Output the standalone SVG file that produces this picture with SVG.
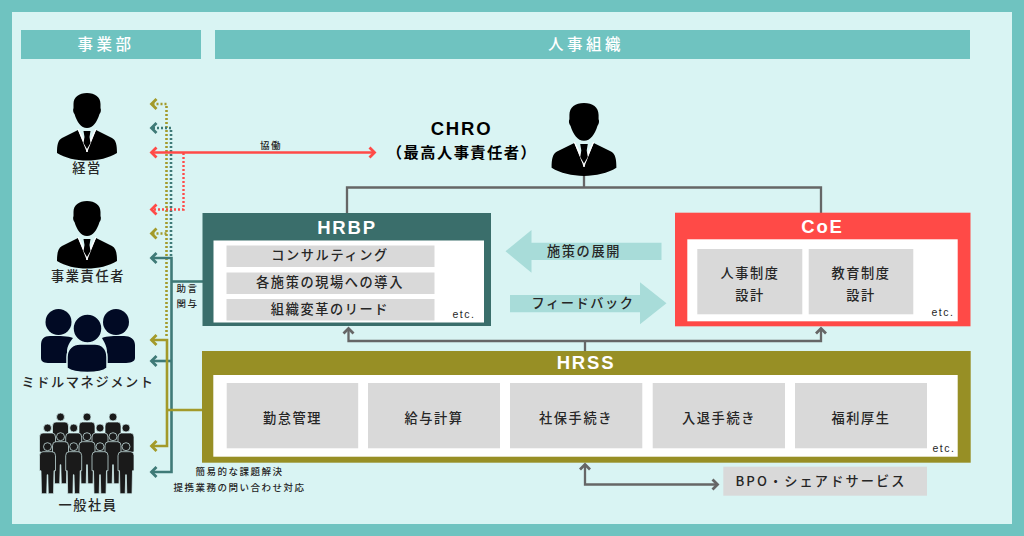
<svg xmlns="http://www.w3.org/2000/svg" width="1024" height="536" viewBox="0 0 1024 536">
<style>
text{font-family:"Noto Sans CJK JP","Noto Sans",sans-serif;text-anchor:middle;fill:#262626;font-weight:500}
.lab{font-size:13.200px;letter-spacing:1.6px}
.sm{font-size:9.500px;letter-spacing:1.5px}
.etc{font-family:"Liberation Sans",sans-serif;font-size:10.500px;letter-spacing:1.5px}
.ttl{font-family:"Liberation Sans","Noto Sans CJK JP",sans-serif;font-weight:700;font-size:18.500px;letter-spacing:1.8px;fill:#fff}
.hd{font-size:15.500px;letter-spacing:3.500px;fill:#fff;font-weight:500}
.gb{fill:#d9d9d9}.wb{fill:#fff}
path.c{fill:none}
.t{stroke:#3f7a77;stroke-width:2.600}.o{stroke:#a39a2a;stroke-width:2.600}.r{stroke:#ff4a47;stroke-width:2.400}.g{stroke:#666;stroke-width:2.300}
.d{stroke-dasharray:2 2}
.mk{fill:none;stroke-width:2.800}
</style>
<defs>
<marker id="mt" markerUnits="userSpaceOnUse" markerWidth="12" markerHeight="14" refX="8.500" refY="7" orient="auto-start-reverse"><path class="mk" stroke="#3f7a77" d="M3 2L8 7L3 12"/></marker>
<marker id="mo" markerUnits="userSpaceOnUse" markerWidth="12" markerHeight="14" refX="8.500" refY="7" orient="auto-start-reverse"><path class="mk" stroke="#a39a2a" d="M3 2L8 7L3 12"/></marker>
<marker id="mr" markerUnits="userSpaceOnUse" markerWidth="12" markerHeight="14" refX="8.500" refY="7" orient="auto-start-reverse"><path class="mk" stroke="#ff4a47" d="M3 2L8 7L3 12"/></marker>
<marker id="mg" markerUnits="userSpaceOnUse" markerWidth="12" markerHeight="14" refX="8.500" refY="7" orient="auto-start-reverse"><path class="mk" stroke="#666" d="M3 2L8 7L3 12"/></marker>
<g id="exec">
<path fill="#000" d="M0 0C-8 0-13.500 4-13.500 11L-13.500 15C-14.500 17-13.500 20-12.500 21C-10 29-6 35 0 35C6 35 10 29 12.500 21C13.500 20 14.500 17 13.500 15L13.500 11C13.500 4 8 0 0 0Z"/>
<path fill="#000" d="M-9 37L-25 45C-29 47-30 52-30 60C-14 70 14 70 30 60C30 52 29 47 25 45L9 37L0 58Z"/>
<path fill="#fff" d="M-9 36L-0.500 52L0 59L-1 56Z M9 36L0.500 52L0 59L1 56Z" stroke="#fff" stroke-width=".8"/>
<path fill="#000" d="M-3.500 38H3.500L2.500 44L3.500 50L0 56L-3.500 50L-2.500 44Z"/>
</g>
<g id="mini" stroke="#d9f4f3" stroke-width=".7">
<circle cx="0" cy="0" r="4"/>
<path d="M-4.500 5H4.500Q8 5 8 9V24H6.500L6 47H.8L.3 28H-.3L-.8 47H-6L-6.500 24H-8V9Q-8 5-4.500 5Z"/>
</g>
</defs>
<rect width="1024" height="536" fill="#6fc3c0"/>
<rect x="12" y="12" width="1000" height="512" fill="#d9f4f3"/>
<g id="header-biz"><rect x="21" y="30" width="180" height="29" fill="#6fc3c0"/><text class="hd" x="106" y="50">事業部</text></g>
<g id="header-hr"><rect x="215" y="30" width="755" height="29" fill="#6fc3c0"/><text class="hd" x="586" y="50">人事組織</text></g>

<g id="connectors">
<path class="c o d" d="M166.500 336V104H151" marker-end="url(#mo)"/>
<path class="c o d" d="M166.500 233.500H151" marker-end="url(#mo)"/>
<path class="c t d" d="M171 256V128H151" marker-end="url(#mt)"/>
<path class="c r d" d="M183.500 153V209.500H151" marker-end="url(#mr)"/>
<path class="c r" d="M151 152.500H375" marker-start="url(#mr)" marker-end="url(#mr)"/>
<path class="c t" d="M203 281.500H171.500"/>
<path class="c t" d="M151 258H171.500V472H151" marker-start="url(#mt)" marker-end="url(#mt)"/>
<path class="c t" d="M171.500 361H151" marker-end="url(#mt)"/>
<path class="c o" d="M151 340H167V446H151" marker-start="url(#mo)" marker-end="url(#mo)"/>
<path class="c o" d="M167 410H202"/>
<path class="c g" d="M584 176V187.500M347 213V187.500H821V213"/>
<path class="c g" d="M348.500 328V341H821V328" marker-start="url(#mg)" marker-end="url(#mg)"/>
<path class="c g" d="M585 351V341"/>
<path class="c g" d="M585 464V484.500H718" marker-start="url(#mg)" marker-end="url(#mg)"/>
</g>
<text class="sm" x="271" y="149">協働</text>
<text class="sm" x="187.500" y="292">助言</text>
<text class="sm" x="187.500" y="307">関与</text>
<text class="sm" x="239.500" y="475">簡易的な課題解決</text>
<text class="sm" x="239.500" y="490.500">提携業務の問い合わせ対応</text>

<g id="person-exec"><use href="#exec" transform="translate(87 93)"/><text class="lab" x="87" y="173">経営</text></g>
<g id="person-biz"><use href="#exec" transform="translate(87 201)"/><text class="lab" x="88" y="281">事業責任者</text></g>
<g id="person-middle" fill="#010a24">
<circle cx="58.500" cy="322" r="13"/><circle cx="116" cy="322" r="13"/>
<path d="M50 336C44 336 41 339 41 345V358C41 362 44 363 50 363H67V352C67 346 70 342 73 338C68 336 60 336 50 336Z"/>
<path d="M124 336C130 336 135 339 135 345V358C135 362 130 363 124 363H107V352C107 346 104 342 102 338C107 336 114 336 124 336Z"/>
<circle cx="87.500" cy="328.500" r="14.500" stroke="#d9f4f3" stroke-width="1.500"/>
<path stroke="#d9f4f3" stroke-width="1.500" d="M80 344H95C102 344 107 349 107 357V368C100 374 75 374 67 368V357C67 349 73 344 80 344Z"/>
<text class="lab" x="88" y="387">ミドルマネジメント</text></g>
<g id="person-staff" fill="#1a1a1a">
<use href="#mini" x="60.500" y="417"/><use href="#mini" x="87" y="417"/><use href="#mini" x="113" y="417"/>
<use href="#mini" x="47.500" y="428"/><use href="#mini" x="73.700" y="428"/><use href="#mini" x="100" y="428"/><use href="#mini" x="126" y="428"/>
<use href="#mini" x="60.500" y="436.700"/><use href="#mini" x="87" y="436.700"/><use href="#mini" x="113" y="436.700"/>
<use href="#mini" x="47.500" y="446.700"/><use href="#mini" x="73.700" y="446.700"/><use href="#mini" x="100" y="446.700"/><use href="#mini" x="126" y="446.700"/>
<text class="lab" x="88" y="510">一般社員</text></g>

<g id="chro"><use href="#exec" transform="translate(584 103) scale(1.08)"/>
<text x="461.500" y="135" style="font-family:'Liberation Sans',sans-serif;font-weight:700;font-size:18.500px;letter-spacing:1.800px;fill:#000">CHRO</text>
<text x="462" y="158" style="font-weight:700;font-size:15.300px;letter-spacing:1.400px;fill:#000">（最高人事責任者）</text></g>

<g id="hrbp"><rect x="202.500" y="213" width="288.500" height="113" fill="#3a6e6b"/><rect class="wb" x="213.500" y="240.500" width="270.500" height="82"/>
<text class="ttl" x="347" y="234">HRBP</text>
<rect class="gb" x="226.500" y="245.500" width="208" height="21.500"/><text class="lab" x="330" y="259.500">コンサルティング</text>
<rect class="gb" x="226.500" y="272.500" width="208" height="21.500"/><text class="lab" x="330" y="286.500">各施策の現場への導入</text>
<rect class="gb" x="226.500" y="299" width="208" height="21.500"/><text class="lab" x="330" y="314">組織変革のリード</text>
<text class="etc" x="464" y="318">etc.</text></g>

<g id="flow-deploy"><path fill="#a8dcd9" d="M505.500 251.300L531.500 230V242.700H661.500V260H531.500V272.700Z"/><text class="lab" x="584" y="255.500">施策の展開</text></g>
<g id="flow-feedback"><path fill="#a8dcd9" d="M666.500 303.300L640 282.300V295H510V312.300H640V324.300Z"/><text class="lab" x="583" y="308">フィードバック</text></g>

<g id="coe"><rect x="675" y="212.700" width="295.500" height="113.600" fill="#ff4a47"/><rect class="wb" x="687.300" y="239.300" width="270.400" height="82"/>
<text class="ttl" x="822.500" y="233">CoE</text>
<rect class="gb" x="697.300" y="249" width="105" height="65.300"/><text class="lab" x="750" y="278">人事制度</text><text class="lab" x="750" y="300">設計</text>
<rect class="gb" x="808.700" y="249" width="104.600" height="65.300"/><text class="lab" x="861" y="278">教育制度</text><text class="lab" x="861" y="300">設計</text>
<text class="etc" x="943" y="315.700">etc.</text></g>

<g id="hrss"><rect x="202" y="351" width="768.700" height="111.700" fill="#978f25"/><rect class="wb" x="213.300" y="375" width="744.400" height="81.700"/>
<text class="ttl" x="586" y="369">HRSS</text>
<rect class="gb" x="226.700" y="383" width="131.500" height="65.300"/><text class="lab" x="292.500" y="422.700">勤怠管理</text>
<rect class="gb" x="368" y="383" width="132" height="65.300"/><text class="lab" x="434" y="422.700">給与計算</text>
<rect class="gb" x="510" y="383" width="132.300" height="65.300"/><text class="lab" x="576" y="422.700">社保手続き</text>
<rect class="gb" x="652.700" y="383" width="132.300" height="65.300"/><text class="lab" x="719" y="422.700">入退手続き</text>
<rect class="gb" x="795" y="383" width="132" height="65.300"/><text class="lab" x="861" y="422.700">福利厚生</text>
<text class="etc" x="944" y="452">etc.</text></g>

<g id="bpo"><rect class="gb" x="723.300" y="466.700" width="203.700" height="29"/><text class="lab" x="821" y="486" style="letter-spacing:2.100px">BPO・シェアドサービス</text></g>
</svg>
